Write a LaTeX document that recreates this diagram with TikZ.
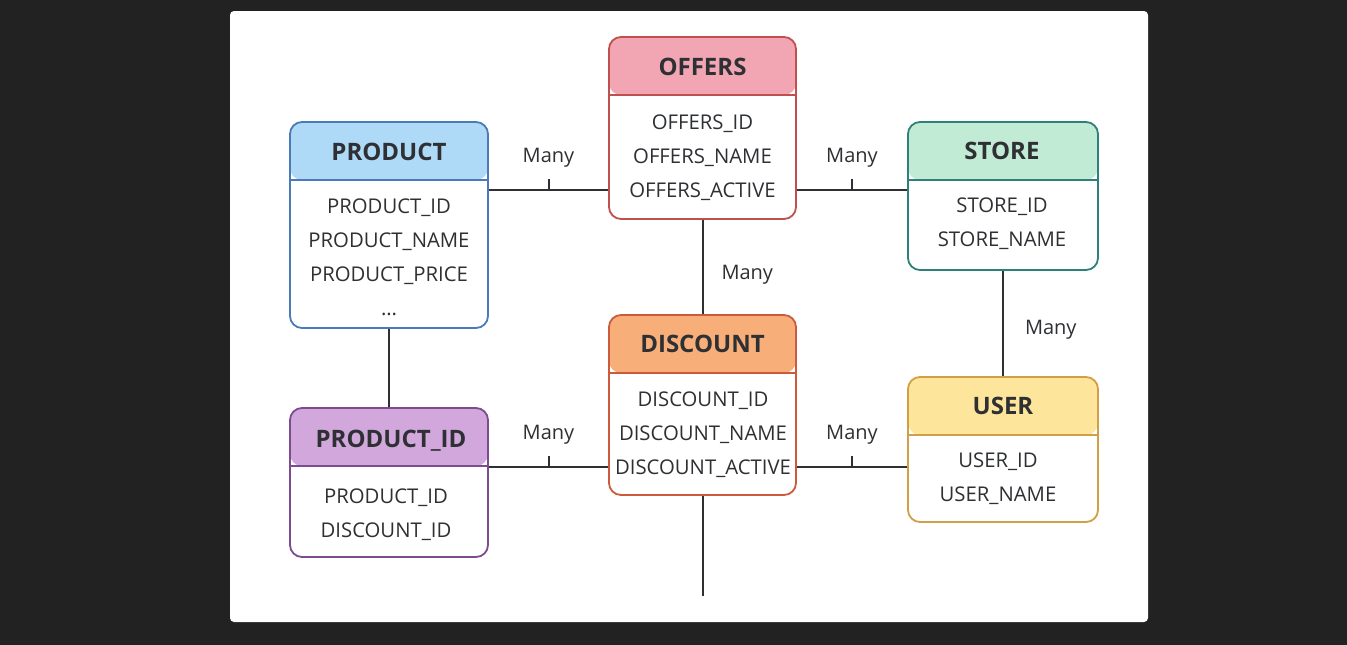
\documentclass[tikz,border=0pt]{standalone}
\usepackage{fontspec}
\setmainfont{Open Sans}
\usetikzlibrary{positioning}

\definecolor{bgdark}{HTML}{222222}
\definecolor{ink}{HTML}{2E3033}
\definecolor{prodline}{HTML}{4A7AB8}
\definecolor{prodhead}{HTML}{AEDAF8}
\definecolor{offline}{HTML}{C0504D}
\definecolor{offhead}{HTML}{F2A6B4}
\definecolor{storeline}{HTML}{2F7F7A}
\definecolor{storehead}{HTML}{C2EBD5}
\definecolor{discline}{HTML}{CC5B3E}
\definecolor{dischead}{HTML}{F8AE78}
\definecolor{pidline}{HTML}{7D4B90}
\definecolor{pidhead}{HTML}{D1A7DC}
\definecolor{userline}{HTML}{D1A046}
\definecolor{userhead}{HTML}{FDE69B}

\tikzset{
  entity/.style 2 args={draw=#1, fill=white, rounded corners=12pt, line width=1.8pt, inner sep=0pt,
    path picture={
      \fill[#2] (path picture bounding box.north west) rectangle ([yshift=-58pt]path picture bounding box.north east);
      \draw[#1, line width=1.8pt] ([yshift=-58pt]path picture bounding box.north west) -- ([yshift=-58pt]path picture bounding box.north east);}},
  title/.style={font=\fontsize{24}{24}\selectfont\bfseries, text=ink},
  field/.style={font=\fontsize{20.3}{20.3}\selectfont, text=ink, text height=14.5pt, text depth=0pt},
  many/.style={font=\fontsize{20}{20}\selectfont, text=ink, inner sep=0pt, text height=14.5pt, text depth=0pt},
  link/.style={draw=ink, line width=2pt},
}

\begin{document}
\begin{tikzpicture}[x=1pt, y=-1pt]
        \fill[bgdark] (0,0) rectangle (1347,645);
        \useasboundingbox (0,0) rectangle (1347,645);
        \fill[white, rounded corners=4pt] (230,11) rectangle (1148,622);

        % tables
        \node[entity={prodline}{prodhead}, minimum width=198pt, minimum height=206pt] (product) at (389,225) {};
        \node[entity={offline}{offhead}, minimum width=187pt, minimum height=182pt] (offers) at (702.5,128) {};
        \node[entity={storeline}{storehead}, minimum width=190pt, minimum height=148pt] (store) at (1003,196) {};
        \node[entity={discline}{dischead}, minimum width=187pt, minimum height=180pt] (discount) at (702.5,405) {};
        \node[entity={pidline}{pidhead}, minimum width=198pt, minimum height=149pt] (pid) at (389,482.5) {};
        \node[entity={userline}{userhead}, minimum width=190pt, minimum height=145pt] (user) at (1003,449.5) {};

        \node[title] (product-title) at (389,152) {PRODUCT};
        \node[title] (offers-title) at (702.5,67) {OFFERS};
        \node[title] (store-title) at (1002,151) {STORE};
        \node[title] (discount-title) at (702.5,344) {DISCOUNT};
        \node[title] (pid-title) at (391,441) {PRODUCT\_ID};
        \node[title] (user-title) at (1003,406) {USER};

        \foreach \t [count=\i] in {PRODUCT\_ID, PRODUCT\_NAME, PRODUCT\_PRICE, \dots}
            \node[field] (product-\i) at (389,172+34*\i) {\t};
        \foreach \t [count=\i] in {OFFERS\_ID, OFFERS\_NAME, OFFERS\_ACTIVE}
            \node[field] (offers-\i) at (702.5,88+34*\i) {\t};
        \foreach \t [count=\i] in {STORE\_ID, STORE\_NAME}
            \node[field] (store-\i) at (1002,171+34*\i) {\t};
        \foreach \t [count=\i] in {DISCOUNT\_ID, DISCOUNT\_NAME, DISCOUNT\_ACTIVE}
            \node[field] (discount-\i) at (703,365+34*\i) {\t};
        \foreach \t [count=\i] in {PRODUCT\_ID, DISCOUNT\_ID}
            \node[field] (pid-\i) at (386,462+34*\i) {\t};
        \foreach \t [count=\i] in {USER\_ID, USER\_NAME}
            \node[field] (user-\i) at (998,426+34*\i) {\t};

        % relations
        \draw[link] (product.east |- offers-3) -- coordinate (m1) (offers.west |- offers-3);
        \draw[link] (offers.east |- offers-3) -- coordinate (m2) (store.west |- offers-3);
        \draw[link] (pid.east |- discount-3) -- coordinate (m3) (discount.west |- discount-3);
        \draw[link] (discount.east |- discount-3) -- coordinate (m4) (user.west |- discount-3);
        \foreach \m in {m1,m2,m3,m4} {
            \draw[link] (\m) -- ++(0,-11);
            \node[many, above=27pt of \m] (label-\m) {Many};
        }
        \draw[link] (offers) -- node[many, pos=0.56, right=18pt] (label-od) {Many} (discount);
        \draw[link] (store) -- node[many, pos=0.54, right=21pt] (label-su) {Many} (user);
        \draw[link] (product) -- (pid);
        \coordinate (tail) at (702.5,596);
        \draw[link] (discount) -- (tail);
\end{tikzpicture}
\end{document}
